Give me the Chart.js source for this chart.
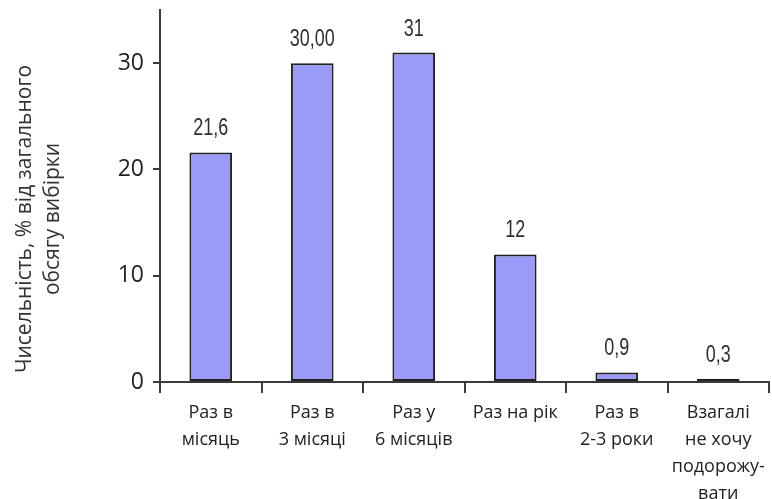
<!DOCTYPE html>
<html>
<head>
<meta charset="utf-8">
<script src="https://cdn.jsdelivr.net/npm/chart.js@4"></script>
<style>
  html, body { margin: 0; padding: 0; background: #fff; }
  #wrap { width: 772px; height: 499px; }
</style>
</head>
<body>
<div id="wrap"><canvas id="c" width="772" height="499"></canvas></div>
<script>
// Survey: how often respondents travel (share of the whole sample, %)
const categories = [
  ['Раз в', 'місяць'],
  ['Раз в', '3 місяці'],
  ['Раз у', '6 місяців'],
  ['Раз на рік'],
  ['Раз в', '2-3 роки'],
  ['Взагалі', 'не хочу', 'подорожу-', 'вати']
];
const shares = [21.6, 30.00, 31, 12, 0.9, 0.3];
const shareDecimals = [1, 2, 0, 0, 1, 1];
const yTicks = [0, 10, 20, 30];
const yTitle = ['Чисельність, % від загального', 'обсягу вибірки'];

const axisColor = '#3a3a3a';

// value printed above each bar, in Ukrainian decimal notation (narrow face)
const valueLabels = {
  id: 'valueLabels',
  afterDatasetsDraw(chart) {
    const ctx = chart.ctx;
    const meta = chart.getDatasetMeta(0);
    ctx.save();
    ctx.fillStyle = '#2e2e2e';
    ctx.font = '23px "Liberation Sans", Arial, sans-serif';
    ctx.textAlign = 'center';
    ctx.textBaseline = 'alphabetic';
    meta.data.forEach((bar, i) => {
      const text = shares[i].toFixed(shareDecimals[i]).replace('.', ',');
      ctx.save();
      ctx.translate(bar.x, bar.y - 17);
      ctx.scale(0.78, 1);
      ctx.fillText(text, 0, 0);
      ctx.restore();
    });
    ctx.restore();
  }
};

// rotated two-line title for the value axis
const yAxisTitle = {
  id: 'yAxisTitle',
  afterDraw(chart) {
    const ctx = chart.ctx;
    ctx.save();
    ctx.fillStyle = '#333';
    ctx.font = '21px "Open Sans", sans-serif';
    ctx.textAlign = 'center';
    ctx.textBaseline = 'middle';
    ctx.translate(25, 219);
    ctx.rotate(-Math.PI / 2);
    yTitle.forEach((line, i) => ctx.fillText(line, 0, i * 28));
    ctx.restore();
  }
};

new Chart(document.getElementById('c'), {
  type: 'bar',
  data: {
    labels: categories,
    datasets: [{
      data: shares,
      backgroundColor: '#9a9af9',
      borderColor: '#222',
      borderWidth: 2,
      borderSkipped: false,
      categoryPercentage: 1,
      barPercentage: 0.42
    }]
  },
  options: {
    responsive: false,
    animation: false,
    layout: { padding: { top: 10, right: 3, left: 0, bottom: 0 } },
    plugins: {
      legend: { display: false },
      tooltip: { enabled: false }
    },
    scales: {
      x: {
        offset: true,
        grid: {
          offset: true,
          drawOnChartArea: false,
          drawTicks: true,
          tickLength: 11,
          color: axisColor,
          lineWidth: 2
        },
        border: { display: true, color: axisColor, width: 2 },
        ticks: {
          color: '#222',
          padding: 6,
          maxRotation: 0,
          autoSkip: false,
          font: { family: '"Open Sans", sans-serif', size: 18, lineHeight: 1.5 }
        },
        afterFit(scale) {
          scale.height = 117;
          scale.paddingLeft = 0;
          scale.paddingRight = 0;
        }
      },
      y: {
        min: 0,
        max: 35,
        grid: {
          drawOnChartArea: false,
          drawTicks: true,
          tickLength: 7,
          color: axisColor,
          lineWidth: 2
        },
        border: { display: true, color: axisColor, width: 2 },
        ticks: {
          color: '#222',
          padding: 9,
          font: { family: '"Open Sans", sans-serif', size: 23 }
        },
        afterBuildTicks(scale) { scale.ticks = yTicks.map(v => ({ value: v })); },
        afterFit(scale) {
          scale.width = 160;
          scale.paddingTop = 0;
          scale.paddingBottom = 0;
        }
      }
    }
  },
  plugins: [valueLabels, yAxisTitle]
});
</script>
</body>
</html>
